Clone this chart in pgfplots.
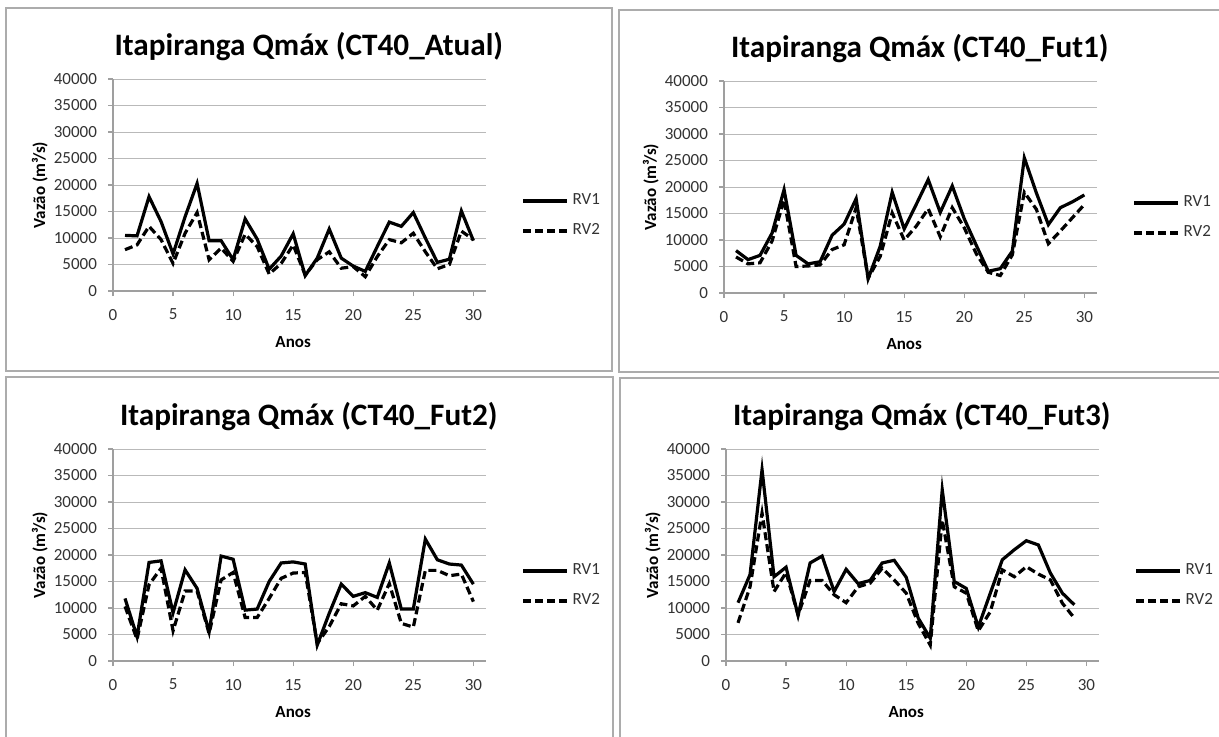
\documentclass[border=0pt]{standalone}
\usepackage{fontspec}
\setmainfont{Carlito}
\usepackage{pgfplots}
\pgfplotsset{compat=1.18}
\usepackage{pgfplotstable}

\pgfplotstableread{
x a b
1 10500 7800
2 10400 8700
3 17800 12200
4 13100 9700
5 7000 5200
6 14000 10900
7 20300 14800
8 9500 5900
9 9500 8100
10 5900 5600
11 13600 10700
12 9800 8400
13 4100 3200
14 6600 5200
15 10800 8700
16 2900 3000
17 6200 5900
18 11700 7400
19 6200 4300
20 4700 4600
21 3700 2700
22 8400 6500
23 13000 9700
24 12200 9100
25 14800 10900
26 10000 7400
27 5400 4200
28 6000 5000
29 15100 11300
30 9500 9700
}\tA
\pgfplotstableread{
x a b
1 8000 6800
2 6300 5500
3 7100 5700
4 11300 9800
5 19500 17600
6 7100 5000
7 5500 5100
8 5900 5300
9 10900 8200
10 13000 9100
11 17800 16100
12 2700 2800
13 8800 6900
14 19000 15100
15 12100 10000
16 16700 12600
17 21400 15900
18 15200 10600
19 20200 16100
20 14000 12300
21 9000 7400
22 4100 3900
23 4600 3300
24 7900 7200
25 25500 19000
26 18900 15800
27 12900 9300
28 16100 11700
29 17200 14200
30 18500 16700
}\tB
\pgfplotstableread{
x a b
1 11800 10300
2 4600 4100
3 18600 14400
4 18900 17500
5 9100 5700
6 17200 13200
7 13700 13200
8 5500 5200
9 19800 15300
10 19200 16700
11 9600 8200
12 9800 8200
13 15000 11800
14 18500 15600
15 18700 16600
16 18300 16700
17 3000 3300
18 9000 6500
19 14500 10800
20 12200 10400
21 12900 12200
22 12000 9600
23 18500 14600
24 9800 7100
25 9800 6400
26 23000 17100
27 19100 17100
28 18300 16100
29 18100 16400
30 14500 11200
}\tC
\pgfplotstableread{
x a b
1 11000 7200
2 16300 14000
3 36100 27900
4 15900 13100
5 17700 16700
6 8600 8700
7 18500 15200
8 19800 15200
9 13100 12500
10 17300 11000
11 14600 14000
12 15200 14700
13 18500 17500
14 19000 15300
15 15800 12800
16 8100 7100
17 4300 3000
18 32300 26600
19 15000 14000
20 13700 12800
21 6400 5700
22 12800 9300
23 19100 17200
24 21000 15900
25 22700 17800
26 21900 16400
27 16600 15300
28 12800 10900
29 10600 8100
}\tD

\pgfplotsset{
  panel/.style={
    scale only axis, width=186.5pt, height=106pt,
    xmin=0, xmax=31.05, ymin=0, ymax=40000,
    xtick={0,5,...,30}, ytick={0,5000,...,40000},
    axis x line*=bottom, axis y line*=left,
    axis line style={gray!75, line width=0.6pt},
    ymajorgrids, grid style={gray!55, line width=0.5pt},
    tick align=outside, major tick length=2.5pt,
    tick style={gray!75, line width=0.6pt},
    scaled y ticks=false,
    /pgf/number format/1000 sep={},
    /pgf/number format/assume math mode=true,
    ticklabel style={font=\fontsize{8.5}{10}\selectfont, text=black!80},
    xticklabel style={yshift=-3pt},
    yticklabel style={xshift=-2pt},
    title style={at={(axis description cs:0.525,1)}, anchor=base, yshift=6pt,
      font=\bfseries\fontsize{15.6}{19}\selectfont},
    ylabel={Vazão (m³/s)},
    ylabel style={at={(axis description cs:-0.196,0.5)}, anchor=center,
      font=\bfseries\fontsize{8.5}{10}\selectfont},
    xlabel={Anos},
    xlabel style={at={(axis description cs:0.483,-0.24)}, anchor=center,
      font=\bfseries\fontsize{8.5}{10}\selectfont},
    legend style={draw=none, fill=none, at={(axis description cs:1.094,0.354)},
      anchor=west, inner sep=0pt, row sep=4pt,
      font=\fontsize{8.5}{10}\selectfont, text=black!80},
    legend cell align=left,
    legend image code/.code={\draw[##1] (0pt,0pt) -- (22pt,0pt);},
  },
  rv1/.style={black, line width=1.6pt, line join=miter},
  rv2/.style={black, line width=1.6pt, dash pattern=on 4pt off 2pt, line join=miter},
}

\begin{document}
\begin{tikzpicture}[x=0.5pt,y=0.5pt]
\useasboundingbox (0,0) rectangle (1219,736);
\fill[white] (0,0) rectangle (1219,736);
\begin{scope}[draw=gray!65, line width=0.8pt]
\draw (6,365) rectangle (612,728);
\draw (619,364) rectangle (1230,726);
\draw (6,-10) rectangle (613,359);
\draw (620,-10) rectangle (1230,358);
\end{scope}

\begin{axis}[panel, at={(56.5pt,222.5pt)}, anchor=south west,
  title={Itapiranga Qmáx (CT40\_Atual)}]
\addplot[rv1] table[x=x,y=a]{\tA};
\addplot[rv2] table[x=x,y=b]{\tA};
\legend{RV1,RV2}
\end{axis}

\begin{axis}[panel, at={(362pt,221.5pt)}, anchor=south west,
  title={Itapiranga Qmáx (CT40\_Fut1)}]
\addplot[rv1] table[x=x,y=a]{\tB};
\addplot[rv2] table[x=x,y=b]{\tB};
\legend{RV1,RV2}
\end{axis}

\begin{axis}[panel, at={(56.5pt,37.5pt)}, anchor=south west,
  title={Itapiranga Qmáx (CT40\_Fut2)}]
\addplot[rv1] table[x=x,y=a]{\tC};
\addplot[rv2] table[x=x,y=b]{\tC};
\legend{RV1,RV2}
\end{axis}

\begin{axis}[panel, at={(363pt,37.5pt)}, anchor=south west,
  title={Itapiranga Qmáx (CT40\_Fut3)}]
\addplot[rv1] table[x=x,y=a]{\tD};
\addplot[rv2] table[x=x,y=b]{\tD};
\legend{RV1,RV2}
\end{axis}
\end{tikzpicture}
\end{document}
